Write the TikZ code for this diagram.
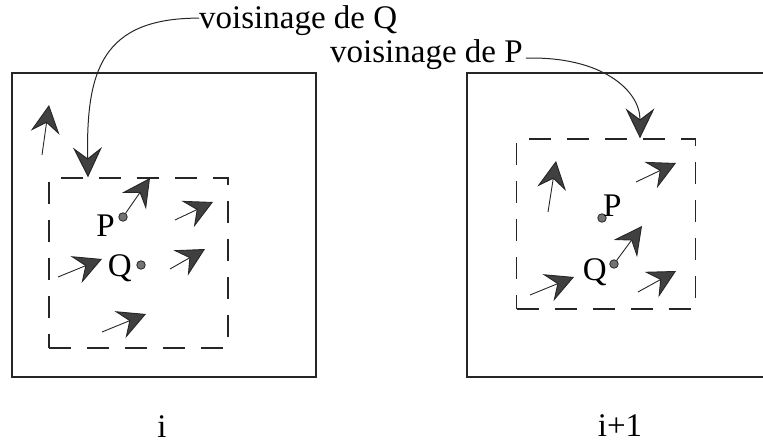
\documentclass[tikz,border=0pt]{standalone}
\usepackage{fontspec}
\setmainfont{Liberation Serif}
\usetikzlibrary{arrows.meta}

\begin{document}
\begin{tikzpicture}[
    x=1pt,y=-1pt,
    every node/.style={font=\fontsize{33}{36}\selectfont, inner sep=0pt},
    frame/.style={draw=black!85, line width=1.2pt, minimum width=304pt, minimum height=304pt},
    zone/.style={draw=black!85, line width=1.3pt, dash pattern=on 22pt off 16pt, minimum width=179pt, minimum height=170pt},
    vec/.style={draw=black!85, line width=0.9pt, -{Stealth[length=28pt, width=29pt, inset=10pt, fill=black!75]}},
    pointer/.style={draw=black!85, line width=1pt, -{Stealth[length=30pt, width=29pt, inset=11pt, fill=black!75]}},
    site/.style={circle, draw=black!85, fill=black!55, line width=0.8pt, minimum size=8.5pt}
]
    \useasboundingbox (0,0) rectangle (763,443);
    \clip (0,0) rectangle (763,443);

    % step i and step i+1
    \node[frame] (frameL) at (164,225) {};
    \node[frame] (frameR) at (619,225) {};
    \node[zone] (zoneQ) at (138.5,263) {};
    \node[zone] (zoneP) at (606,224) {};

    \node[anchor=base] (stepL) at (162,437) {i};
    \node[anchor=base] (stepR) at (620,436) {i+1};

    % the two points
    \node[site] (ptPl) at (123,217) {};
    \node[site] (ptQl) at (141,265) {};
    \node[site] (ptPr) at (602,218) {};
    \node[site] (ptQr) at (614,264) {};
    \node[anchor=base east] (lblPl) at (115,237) {P};
    \node[anchor=base east] (lblQl) at (132,277) {Q};
    \node[anchor=base west] (lblPr) at (603,217) {P};
    \node[anchor=base east] (lblQr) at (607,281) {Q};

    % moving directions
    \coordinate (headPl) at (150,178);
    \coordinate (headQr) at (642,226);
    \draw[vec] (ptPl) -- (headPl);
    \draw[vec] (ptQr) -- (headQr);
    \foreach \tail/\head in {{(175,220)}/{(213,202)}, {(58,277)}/{(102,259)},
                             {(170,269)}/{(205,249)}, {(102,332)}/{(146,314)},
                             {(42,155)}/{(49,105)},
                             {(548,212)}/{(556,161)}, {(636,182)}/{(676,163)},
                             {(530,295)}/{(574,277)}, {(638,292)}/{(676,271)}} {
        \draw[vec] \tail -- \head;
    }

    % neighbourhood labels
    \node[anchor=base west] (lblQ) at (199,29) {voisinage de Q};
    \node[anchor=base west] (lblP) at (330,63) {voisinage de P};
    \coordinate (tipQ) at ([xshift=-50.5pt]zoneQ.north);
    \coordinate (tipP) at ([xshift=34pt]zoneP.north);
    \draw[pointer] ([yshift=3pt]lblQ.west) .. controls +(-97,0) and +(-2,-107) .. (tipQ);
    \draw[pointer] ([xshift=3pt,yshift=-3pt]lblP.east) .. controls +(76,-2) and +(0,-48) .. (tipP);
\end{tikzpicture}
\end{document}
